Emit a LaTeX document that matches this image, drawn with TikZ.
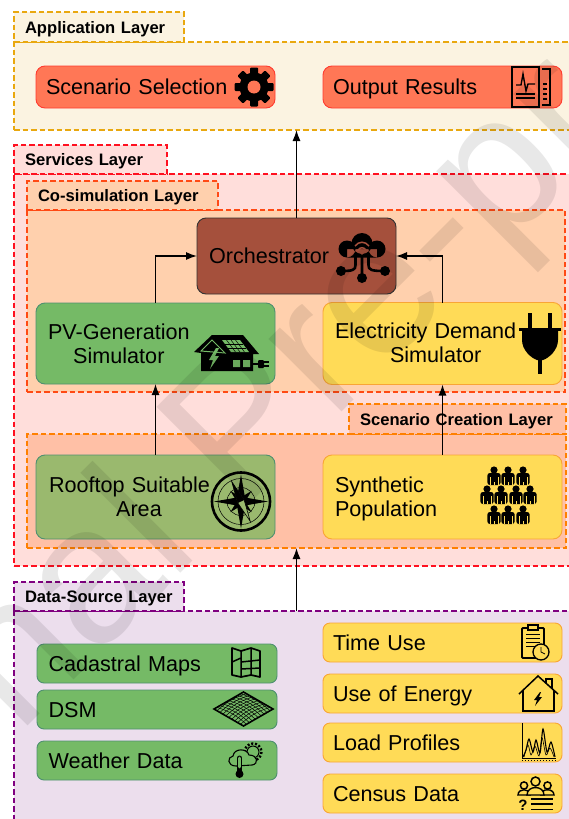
\documentclass[tikz,border=0pt]{standalone}
\usepackage{fontspec}
\setmainfont{Liberation Sans}
\usepackage{tikz}
\usetikzlibrary{arrows.meta,calc,positioning}
\definecolor{appline}{HTML}{E9A80F}
\definecolor{appfill}{HTML}{FBF3E1}
\definecolor{srvline}{HTML}{FF1020}
\definecolor{srvfill}{HTML}{FFDEDB}
\definecolor{simline}{HTML}{FF4A14}
\definecolor{simfill}{HTML}{FFD0AD}
\definecolor{crtline}{HTML}{FF8000}
\definecolor{crtfill}{HTML}{FFC0A6}
\definecolor{srcline}{HTML}{800080}
\definecolor{srcfill}{HTML}{ECDEED}
\definecolor{redfill}{HTML}{FF7756}
\definecolor{redline}{HTML}{FF3B30}
\definecolor{brownfill}{HTML}{A5503C}
\definecolor{greenfill}{HTML}{75BA66}
\definecolor{greenline}{HTML}{4E9070}
\definecolor{olivefill}{HTML}{9AB96E}
\definecolor{yellowfill}{HTML}{FFDB57}
\definecolor{yellowline}{HTML}{F9A535}
\tikzstyle{tabbox} = [rectangle,anchor=north west,line width=2.1,dash pattern=on 5.5pt off 3pt,outer sep=0,inner xsep=11,inner ysep=0,minimum height=30,text depth=0pt,align=left,font=\fontsize{16.6}{19}\selectfont\bfseries]
\tikzstyle{layerbox} = [rectangle,anchor=north west,line width=2.1,dash pattern=on 5.5pt off 3pt,outer sep=0]
\tikzstyle{appbox} = [draw=appline,fill=appfill]
\tikzstyle{srvbox} = [draw=srvline,fill=srvfill]
\tikzstyle{simbox} = [draw=simline,fill=simfill]
\tikzstyle{crtbox} = [draw=crtline,fill=crtfill]
\tikzstyle{srcbox} = [draw=srcline,fill=srcfill]
\tikzstyle{block} = [rectangle,rounded corners=9,line width=.9,outer sep=0,inner xsep=12,inner ysep=0,minimum width=239,text width=215,align=left,font=\fontsize{21.6}{24}\selectfont]
\tikzstyle{small} = [block,rounded corners=7,inner xsep=11,text width=217,minimum height=39,text depth=0pt]
\tikzset{person/.pic={
	\fill (0,-7) circle (3.6);
	\fill[rounded corners=2.5] (-6.6,-4) rectangle (6.6,8);
	\draw[yellowfill,line width=.6] (-3.9,0) -- (-3.9,8) (3.9,0) -- (3.9,8) (0,5) -- (0,8);
}}
\newcommand{\midlines}[1]{\begin{tabular}{@{}c@{}}#1\end{tabular}}

\begin{document}
\begin{tikzpicture}[x=1pt,y=-1pt,>={Latex[length=11pt,width=8pt]}]
	\path[use as bounding box,clip] (0,0) rectangle (569,819);
	% layers
	\node[layerbox,appbox,minimum width=560,minimum height=88] (applayer) at (14,42) {};
	\node[tabbox,appbox,text width=148] (apptab) at (14,12) {Application Layer};
	\node[layerbox,srvbox,minimum width=560,minimum height=392] (srvlayer) at (14,174) {};
	\node[tabbox,srvbox,text width=131,minimum height=29] (srvtab) at (14,145) {Services Layer};
	\node[layerbox,simbox,minimum width=538,minimum height=182] (simlayer) at (27,210) {};
	\node[tabbox,simbox,text width=169,minimum height=29] (simtab) at (27,181) {Co-simulation Layer};
	\node[layerbox,crtbox,minimum width=539,minimum height=114] (crtlayer) at (27,434) {};
	\node[tabbox,crtbox,text width=195] (crttab) at (349,404) {Scenario Creation Layer};
	\node[layerbox,srcbox,minimum width=560,minimum height=215] (srclayer) at (14,611) {};
	\node[tabbox,srcbox,text width=148,minimum height=29] (srctab) at (14,582) {Data-Source Layer};

	% blocks
	\node[block,draw=redline,fill=redfill,minimum height=42,inner xsep=10,text width=219,text depth=0pt,anchor=north west] (scenario) at (36,66) {Scenario Selection};
	\node[block,draw=redline,fill=redfill,minimum height=42,inner xsep=10,text width=219,text depth=0pt] (output) [right=48pt of scenario] {Output Results};
	\node[block,draw=black!80,fill=brownfill,minimum width=199,text width=175,minimum height=76,anchor=north west] (orch) at (197,218) {Orchestrator};
	\node[block,draw=greenline,fill=greenfill,minimum height=81,text depth=12.7pt,anchor=north west] (pvgen) at (36,303) {\midlines{PV-Generation\\Simulator}};
	\node[block,draw=yellowline,fill=yellowfill,minimum height=82,text depth=14.7pt] (demand) [right=48pt of pvgen] {\midlines{Electricity Demand\\\hspace*{20pt}Simulator}};
	\node[block,draw=greenline,fill=olivefill,minimum height=84,inner xsep=13,text width=213,text depth=13.7pt] (rooftop) [below=71pt of pvgen] {\midlines{Rooftop Suitable\\\hspace*{19pt}Area}};
	\node[block,draw=yellowline,fill=yellowfill,minimum height=84,text depth=25.5pt] (synth) [right=48pt of rooftop] {Synthetic\\Population};

	\node[small,draw=greenline,fill=greenfill,minimum width=240,anchor=north west] (cadastral) at (37,644) {Cadastral Maps};
	\node[small,draw=greenline,fill=greenfill,minimum width=240] (dsm) [below=7pt of cadastral] {DSM};
	\node[small,draw=greenline,fill=greenfill,minimum width=240] (weather) [below=12pt of dsm] {Weather Data};
	\node[small,draw=yellowline,fill=yellowfill,inner xsep=10,text width=219,anchor=north west] (timeuse) at (323,623) {Time Use};
	\node[small,draw=yellowline,fill=yellowfill,inner xsep=10,text width=219] (energy) [below=12pt of timeuse] {Use of Energy};
	\node[small,draw=yellowline,fill=yellowfill,inner xsep=10,text width=219] (profiles) [below=10pt of energy] {Load Profiles};
	\node[small,draw=yellowline,fill=yellowfill,inner xsep=10,text width=219] (census) [below=12pt of profiles] {Census Data};

	% connectors
	\begin{scope}[line width=1.3]
		\draw[->] (orch.north) -- (orch.north |- applayer.south);
		\draw[->] (pvgen.north) |- (orch.west);
		\draw[->] (demand.north) |- (orch.east);
		\draw[->] (rooftop) -- (pvgen);
		\draw[->] (synth) -- (demand);
		\draw[->] (orch.north |- srclayer.north) -- (orch.north |- crtlayer.south);
	\end{scope}

	% gear
	\fill (254,87) circle (14.5);
	\foreach \a in {0,45,...,315}
		\fill[shift={(254,87)},rotate=\a,rounded corners=1] (-4,-19.5) rectangle (4,-10);
	\fill[redfill] (254,87) circle (6.5);
	% report
	\draw[line width=2.4] (512,67) rectangle (539,107);
	\draw[line width=1.4] (516,85) -- (521,85) -- (523,74) -- (526,91) -- (528,84) -- (535,84);
	\draw[line width=1.4] (516,94) -- (535,94) (516,98) -- (535,98);
	\draw[line width=2] (542,69) -- (550,69) -- (550,105) -- (542,105);
	\foreach \y in {84,89,94,99}
		\draw[line width=1.4] (543,\y) -- (547,\y);
	% cloud network
	\fill (362,243.5) circle (10.5) (347,249) circle (8.5) (377,249) circle (8.5) (347,249) rectangle (377,257.5);
	\draw[brownfill,line width=1.5] (355,246) .. controls (359,241) and (365,241) .. (369,246);
	\draw[brownfill,line width=1.5] (358,250) .. controls (360,247) and (364,247) .. (366,250);
	\fill[brownfill] (362,253) circle (1.8);
	\draw[line width=2.6] (362,256) -- (362,278) (355.5,256) -- (355.5,265) .. controls (355.5,270) and (353,271) .. (341,271);
	\draw[line width=2.6] (368.5,256) -- (368.5,265) .. controls (368.5,270) and (371,271) .. (385,271);
	\fill (362,278) circle (5) (341,271) circle (5) (385,271) circle (5);
	% solar house
	\fill (212,335) -- (243,335) -- (259,354) -- (253,354) -- (253,371) -- (201,371) -- (201,353) -- (194,352) -- cycle;
	\fill[greenfill] (222,340) -- (240,340) -- (249,352) -- (231,352) -- cycle;
	\foreach \t in {.25,.5,.75}
		\draw[line width=.5] ($(222,340)!\t!(240,340)$) -- ($(231,352)!\t!(249,352)$);
	\foreach \t in {.33,.66}
		\draw[line width=.5] ($(222,340)!\t!(231,352)$) -- ($(240,340)!\t!(249,352)$);
	\draw[greenfill,line width=1] (201,351) -- (212,340) -- (225,353) -- cycle;
	\fill[greenfill] (216,348) -- (209,360) -- (213,360) -- (210,369) -- (219,356) -- (215,356) -- (219,348) -- cycle;
	\fill[greenfill] (233,360) rectangle (240,367) (243,360) rectangle (250,367);
	\draw[line width=1.8] (252,364) -- (259,364);
	\fill[rounded corners=1] (258,360) rectangle (264,368);
	\draw[line width=1.3] (263,362) -- (268.5,362) (263,366) -- (268.5,366);
	% plug
	\fill (522,331) -- (558,331) -- (558,340) .. controls (558,350) and (549,358) .. (543,360) -- (537,360) .. controls (531,358) and (522,350) .. (522,340) -- cycle;
	\draw[line width=4] (530,313) -- (530,330) (550,313) -- (550,330) (540,358) -- (540,374);
	\draw[line width=2.5] (519,329.5) -- (561,329.5);
	% compass
	\draw[line width=2.6] (241,501.5) circle (29);
	\draw[line width=.5] (241,501.5) circle (23) (241,501.5) circle (14);
	\begin{scope}[shift={(241,501.5)}]
		\foreach \a in {0,90,180,270}
			\fill[rotate=\a] (0,-27) -- (4,-4) -- (-4,-4) -- cycle (-4,-4) rectangle (4,4);
		\foreach \a in {45,135,225,315}
			\fill[rotate=\a] (0,-15) -- (3,-3) -- (-3,-3) -- cycle;
		\fill[olivefill,draw=black,line width=.6,rotate=25] (0,-22) -- (3.5,0) -- (0,22) -- (-3.5,0) -- cycle;
		\fill[rotate=25] (0,-22) -- (3.5,0) -- (-3.5,0) -- cycle;
	\end{scope}
	% crowd
	\foreach \x in {494,508,523}{
		\pic at (\x,477) {person};
		\pic at (\x,516) {person};
	}
	\foreach \x in {487,501,516,530}
		\pic at (\x,496) {person};
	% map
	\draw[line width=1.7,line join=round] (232,648) -- (241,651) -- (251,648) -- (260,651) -- (260,677) -- (251,675) -- (241,677) -- (232,675) -- cycle;
	\draw[line width=1.5] (241,651) -- (241,677) (251,648) -- (251,675) (232,662) -- (241,658) (241,662) -- (260,660) (241,669) -- (260,668);
	% surface model
	\coordinate (dsmw) at (214,709);
	\coordinate (dsmn) at (243.5,692);
	\coordinate (dsme) at (273,709);
	\coordinate (dsms) at (243.5,726);
	\foreach \t in {.1,.2,...,.95}{
		\draw[line width=.5] ($(dsmw)!\t!(dsmn)$) to[bend left=12] ($(dsms)!\t!(dsme)$);
		\draw[line width=.5] ($(dsmw)!\t!(dsms)$) to[bend left=12] ($(dsmn)!\t!(dsme)$);
	}
	\draw[line width=1.6] (dsmw) -- (dsmn) -- (dsme) -- (dsms) -- cycle;
	% weather
	\draw[line width=2.4,dash pattern=on 2pt off 1.8pt] (253,752) circle (8.5);
	\draw[line width=1] (253,752) circle (6);
	\draw[line width=1.1,fill=greenfill] (236,766) .. controls (227,766) and (227,757) .. (233,756) .. controls (234,748) and (247,748) .. (249,755) .. controls (258,755) and (259,764) .. (252,765) -- cycle;
	\draw[line width=5,line cap=round] (239.5,758) -- (239.5,773);
	\draw[greenfill,line width=2.8,line cap=round] (239.5,758) -- (239.5,767);
	\fill (239.5,774) circle (4);
	% clipboard
	\draw[line width=1.8,rounded corners=1] (522,628) rectangle (544,658);
	\fill[yellowfill,draw=black,line width=1.2] (528,625) rectangle (538,630);
	\foreach \y in {634,638,642,646}
		\draw[line width=1] (526,\y) -- (540,\y);
	\draw[line width=1.3,fill=yellowfill] (541,652) circle (8);
	\draw[line width=.8] (541,647) -- (541,652) -- (545,654);
	% house
	\draw[line width=1.5] (519,694) -- (538,676) -- (558,694);
	\draw[line width=1.5] (523,690) -- (523,711) -- (554,711) -- (554,690);
	\draw[line width=1.5] (546,683) -- (546,679) -- (552,679) -- (552,689);
	\fill (540,692) -- (534,700) -- (537,700) -- (535,706) -- (542,697) -- (539,697) -- (541,692) -- cycle;
	% profile
	\draw[line width=1] (522,723) -- (522,758) -- (556,758);
	\draw[line width=1,dotted] (522,760) -- (556,760);
	\draw[line width=1.1] plot[smooth] coordinates {(523,757) (526,750) (529,739) (533,752) (536,740) (540,753) (543,729) (547,752) (551,742) (555,757)};
	\draw[line width=.6] plot[smooth] coordinates {(524,757) (528,745) (531,755) (535,746) (539,756) (542,738) (546,755) (550,748) (554,757)};
	% survey
	\draw[line width=1.5] (535.5,781.5) circle (4.5) (524,785.5) circle (3.6) (547.5,785.5) circle (3.6);
	\draw[line width=1.4] (518,795) .. controls (518,788) and (530,788) .. (530,795) -- cycle;
	\draw[line width=1.4] (541,795) .. controls (541,788) and (554,788) .. (554,795) -- cycle;
	\draw[line width=1.4,fill=yellowfill] (527,795) .. controls (527,785) and (544,785) .. (544,795) -- cycle;
	\node[font=\fontsize{15}{15}\selectfont\bfseries,inner sep=0] (askmark) at (523,805) {?};
	\draw[line width=1.6] (531,799) -- (553,799) (531,804) -- (553,804) (531,809.5) -- (553,809.5);

	\node[anchor=base west,inner sep=0,rotate=45,text=black,text opacity=.09,font=\fontsize{195}{195}\selectfont] (stamp) at (-250,1004) {Journal Pre-proof};
\end{tikzpicture}
\end{document}
